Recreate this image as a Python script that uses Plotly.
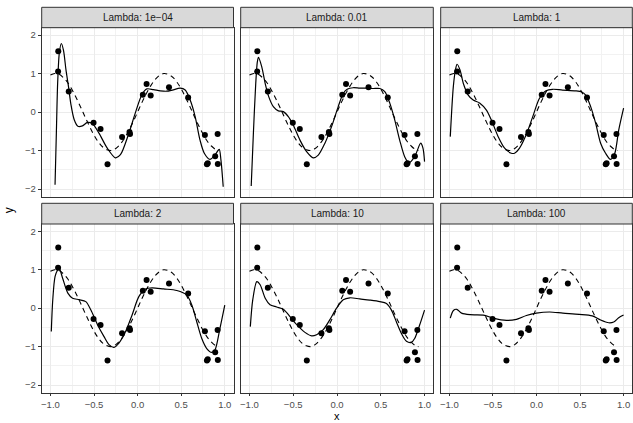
import plotly.graph_objects as go

# ---------------- data ----------------
lambda_labels = ["Lambda: 1e\u221204", "Lambda: 0.01", "Lambda: 1",
                 "Lambda: 2", "Lambda: 10", "Lambda: 100"]

point_x = [-0.91, -0.912, -0.79, -0.505, -0.425, -0.345, -0.178, -0.093, -0.087,
           0.06, 0.103, 0.15, 0.36, 0.58, 0.772, 0.795, 0.805, 0.89, 0.918, 0.92]
point_y = [1.58, 1.05, 0.53, -0.28, -0.44, -1.36, -0.65, -0.52, -0.57,
           0.45, 0.73, 0.43, 0.64, 0.38, -0.60, -1.36, -1.33, -1.15, -0.57, -1.35]

true_x = [-1.0, -0.95, -0.9, -0.85, -0.8, -0.75, -0.7, -0.65, -0.6, -0.55, -0.5, -0.45,
          -0.4, -0.35, -0.3, -0.25, -0.2, -0.15, -0.1, -0.05, 0.0, 0.05, 0.1, 0.15,
          0.2, 0.25, 0.3, 0.35, 0.4, 0.45, 0.5, 0.55, 0.6, 0.65, 0.7, 0.75, 0.8,
          0.85, 0.9, 0.93]
true_y = [0.96, 1.0, 0.98, 0.89, 0.76, 0.57, 0.35, 0.11, -0.14, -0.38, -0.60, -0.78,
          -0.91, -0.98, -1.0, -0.95, -0.84, -0.68, -0.48, -0.25, 0.0, 0.25, 0.48, 0.68,
          0.84, 0.95, 1.0, 0.98, 0.91, 0.78, 0.60, 0.38, 0.14, -0.11, -0.35, -0.57,
          -0.76, -0.89, -0.98, -1.0]

fit1_x = [-0.947, -0.932, -0.917, -0.898, -0.875, -0.85, -0.822, -0.79, -0.765, -0.727,
          -0.685, -0.633, -0.575, -0.52, -0.443, -0.348, -0.254, -0.197, -0.10, -0.027,
          0.049, 0.106, 0.182, 0.26, 0.333, 0.40, 0.489, 0.546, 0.603, 0.66, 0.716,
          0.765, 0.83, 0.887, 0.936, 0.956, 0.982]
fit1_y = [-1.89, -0.55, 0.75, 1.53, 1.78, 1.6, 1.1, 0.62, 0.2, -0.2,
          -0.37, -0.36, -0.27, -0.3, -0.55, -0.94, -1.19, -1.11, -0.55, -0.03,
          0.45, 0.6, 0.58, 0.55, 0.54, 0.57, 0.62, 0.57, 0.31, -0.12, -0.73,
          -1.07, -1.23, -1.12, -0.97, -1.25, -1.94]

fit2_x = [-0.98, -0.955, -0.928, -0.91, -0.897, -0.86, -0.82, -0.78, -0.727, -0.67,
          -0.613, -0.556, -0.5, -0.423, -0.347, -0.271, -0.214, -0.138, -0.062, 0.014,
          0.071, 0.116, 0.184, 0.26, 0.336, 0.412, 0.489, 0.546, 0.603, 0.66, 0.716,
          0.773, 0.822, 0.887, 0.956, 0.982, 1.0]
fit2_y = [-1.92, -0.55, 0.75, 1.3, 1.42, 1.18, 0.74, 0.40, 0.14, 0.03,
          0.01, -0.12, -0.34, -0.73, -1.03, -1.19, -1.12, -0.81, -0.38, 0.14,
          0.48, 0.59, 0.63, 0.62, 0.62, 0.61, 0.61, 0.53, 0.23, -0.21, -0.73,
          -1.16, -1.32, -1.16, -0.81, -0.94, -1.29]

fit3_x = [-0.99, -0.955, -0.93, -0.912, -0.878, -0.84, -0.784, -0.727, -0.65, -0.575,
          -0.518, -0.44, -0.366, -0.29, -0.252, -0.195, -0.12, -0.043, 0.033, 0.109,
          0.185, 0.298, 0.45, 0.52, 0.565, 0.622, 0.679, 0.736, 0.793, 0.85, 0.899,
          0.944, 1.0]
fit3_y = [-0.64, 0.66, 1.1, 1.24, 1.09, 0.74, 0.44, 0.31, 0.23, 0.05,
          -0.21, -0.64, -0.94, -1.07, -1.07, -0.94, -0.6, -0.12, 0.35, 0.55,
          0.59, 0.57, 0.55, 0.52, 0.44, 0.14, -0.29, -0.81, -1.07, -1.23, -1.07,
          -0.47, 0.1]

fit4_x = [-0.99, -0.973, -0.947, -0.916, -0.9, -0.86, -0.80, -0.746, -0.67, -0.594,
          -0.537, -0.46, -0.385, -0.328, -0.271, -0.214, -0.138, -0.062, 0.014, 0.09,
          0.166, 0.298, 0.45, 0.565, 0.622, 0.679, 0.736, 0.793, 0.85, 0.887, 0.944, 1.0]
fit4_y = [-0.61, 0.22, 0.82, 1.0, 1.04, 0.78, 0.39, 0.26, 0.22, 0.17,
          -0.04, -0.43, -0.74, -0.95, -1.02, -0.91, -0.61, -0.17, 0.30, 0.50,
          0.53, 0.50, 0.46, 0.34, 0.08, -0.36, -0.79, -1.05, -1.15, -1.09, -0.53, 0.08]

fit5_x = [-0.99, -0.962, -0.916, -0.878, -0.82, -0.765, -0.69, -0.613, -0.537, -0.46,
          -0.366, -0.29, -0.233, -0.157, -0.081, -0.005, 0.071, 0.147, 0.26, 0.374,
          0.489, 0.565, 0.622, 0.679, 0.736, 0.793, 0.85, 0.887, 0.944, 1.0]
fit5_y = [-0.48, 0.22, 0.69, 0.61, 0.26, 0.09, 0.03, -0.03, -0.22, -0.43,
          -0.63, -0.72, -0.69, -0.56, -0.30, 0.0, 0.22, 0.27, 0.24, 0.21,
          0.17, 0.12, -0.05, -0.36, -0.66, -0.86, -0.89, -0.79, -0.44, -0.05]

fit6_x = [-0.99, -0.954, -0.916, -0.86, -0.764, -0.61, -0.497, -0.345, -0.23, -0.116,
          -0.002, 0.15, 0.303, 0.489, 0.64, 0.736, 0.83, 0.887, 0.944, 1.0]
fit6_y = [-0.26, -0.06, -0.03, -0.13, -0.17, -0.18, -0.26, -0.32, -0.29, -0.19,
          -0.13, -0.10, -0.13, -0.16, -0.20, -0.31, -0.38, -0.36, -0.25, -0.18]

x_tickvals = [-1.0, -0.5, 0.0, 0.5, 1.0]
x_ticktext = ["\u22121.0", "\u22120.5", "0.0", "0.5", "1.0"]
y_tickvals = [-2, -1, 0, 1, 2]
y_ticktext = ["\u22122", "\u22121", "0", "1", "2"]

fits = [(fit1_x, fit1_y), (fit2_x, fit2_y), (fit3_x, fit3_y),
        (fit4_x, fit4_y), (fit5_x, fit5_y), (fit6_x, fit6_y)]

# ---------------- layout geometry (pixels) ----------------
W, H = 633, 423
cols = [(41.7, 233.5), (240.7, 433.3), (440.7, 632.3)]
rows = [(27.7, 196.7), (224.0, 392.7)]       # plot area (top, bottom)
strips = [(7.3, 27.7), (203.3, 224.0)]

def fx(p):
    return p / W

def fy(p):
    return 1 - p / H

fig = go.Figure()
layout = dict(
    width=W, height=H, margin=dict(l=0, r=0, t=0, b=0),
    paper_bgcolor="white", plot_bgcolor="white", showlegend=False,
    font=dict(family="Liberation Sans, Arial, sans-serif"),
)
shapes = []
annotations = []

for i in range(6):
    r, c = divmod(i, 3)
    n = i + 1
    xa = "x" if n == 1 else f"x{n}"
    ya = "y" if n == 1 else f"y{n}"
    fx_, fy_ = fits[i]

    fig.add_trace(go.Scatter(x=true_x, y=true_y, mode="lines", xaxis=xa, yaxis=ya,
                             line=dict(color="black", width=1.1, dash="5px,4px",
                                       shape="spline"), hoverinfo="skip"))
    fig.add_trace(go.Scatter(x=fx_, y=fy_, mode="lines", xaxis=xa, yaxis=ya,
                             line=dict(color="black", width=1.2, shape="spline",
                                       smoothing=0.8), hoverinfo="skip"))
    fig.add_trace(go.Scatter(x=point_x, y=point_y, mode="markers", xaxis=xa, yaxis=ya,
                             marker=dict(color="black", size=6), hoverinfo="skip"))

    xkey = "xaxis" if n == 1 else f"xaxis{n}"
    ykey = "yaxis" if n == 1 else f"yaxis{n}"
    bottom = (r == 1)
    left = (c == 0)
    layout[xkey] = dict(
        domain=[fx(cols[c][0]), fx(cols[c][1])], anchor=ya,
        range=[-1.1, 1.1], tickvals=x_tickvals, ticktext=x_ticktext,
        showticklabels=bottom, ticks="outside" if bottom else "",
        ticklen=2.5, tickwidth=1, tickcolor="#333333",
        tickfont=dict(size=9.5, color="#4D4D4D"),
        showgrid=True, gridcolor="#EBEBEB", gridwidth=1,
        minor=dict(showgrid=True, gridcolor="#F2F2F2", gridwidth=0.6, dtick=0.25,
                   tick0=-1),
        zeroline=False, showline=True, mirror=True, linecolor="#333333", linewidth=1,
        fixedrange=True,
    )
    layout[ykey] = dict(
        domain=[fy(rows[r][1]), fy(rows[r][0])], anchor=xa,
        range=[-2.2, 2.19], tickvals=y_tickvals, ticktext=y_ticktext,
        showticklabels=left, ticks="outside" if left else "",
        ticklen=3, tickwidth=1, tickcolor="#333333",
        tickfont=dict(size=9.5, color="#4D4D4D"),
        showgrid=True, gridcolor="#EBEBEB", gridwidth=1,
        minor=dict(showgrid=True, gridcolor="#F2F2F2", gridwidth=0.6, dtick=0.5,
                   tick0=-2),
        zeroline=False, showline=True, mirror=True, linecolor="#333333", linewidth=1,
        fixedrange=True,
    )

    # strip
    shapes.append(dict(type="rect", xref="paper", yref="paper",
                       x0=fx(cols[c][0]), x1=fx(cols[c][1]),
                       y0=fy(strips[r][1]), y1=fy(strips[r][0]),
                       fillcolor="#D9D9D9", line=dict(color="#333333", width=1),
                       layer="above"))
    annotations.append(dict(text=lambda_labels[i], xref="paper", yref="paper",
                            x=fx((cols[c][0] + cols[c][1]) / 2),
                            y=fy((strips[r][0] + strips[r][1]) / 2),
                            xanchor="center", yanchor="middle", showarrow=False,
                            font=dict(size=10, color="#1A1A1A")))

annotations.append(dict(text="x", xref="paper", yref="paper",
                        x=fx((cols[0][0] + cols[2][1]) / 2), y=fy(422.5),
                        xanchor="center", yanchor="bottom", showarrow=False,
                        borderpad=0, font=dict(size=11, color="black")))
annotations.append(dict(text="y", xref="paper", yref="paper",
                        x=fx(9), y=fy((rows[0][0] + rows[1][1]) / 2),
                        xanchor="center", yanchor="middle", showarrow=False,
                        textangle=-90, font=dict(size=12, color="black")))

layout["shapes"] = shapes
layout["annotations"] = annotations
fig.update_layout(**layout)
fig.write_html("out.html")
